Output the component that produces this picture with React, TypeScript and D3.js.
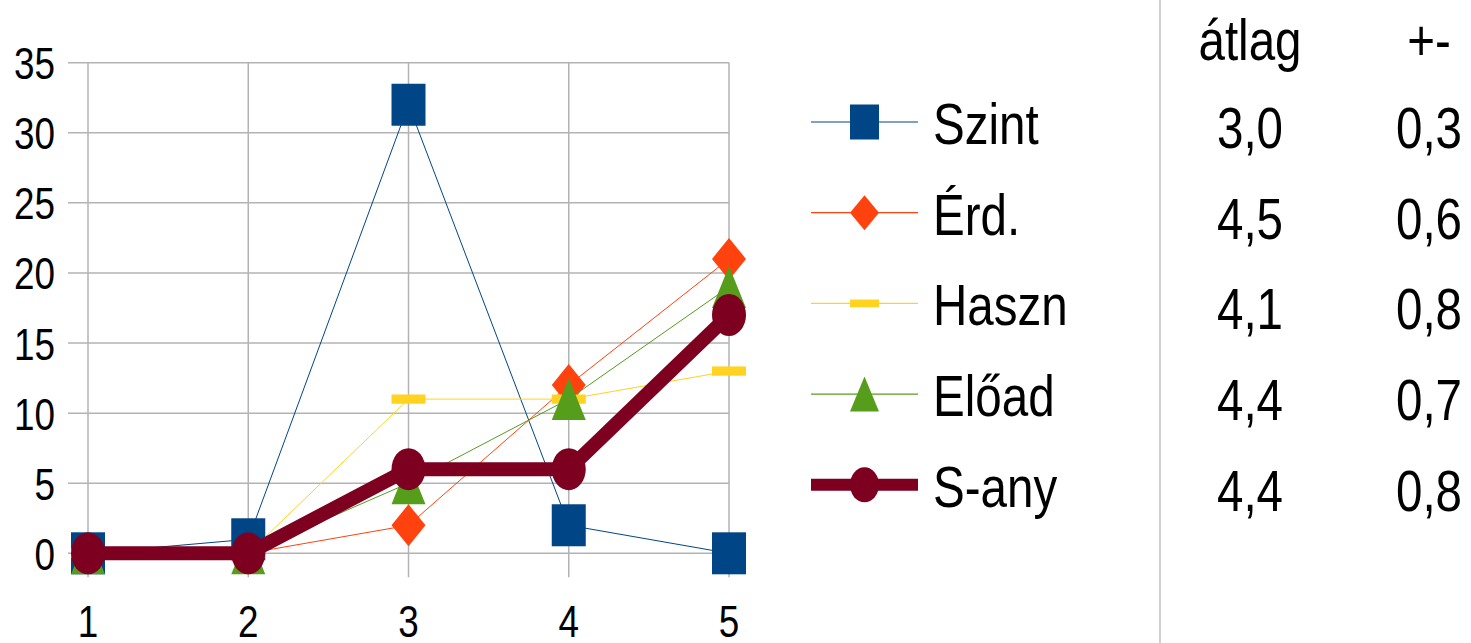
import React, { useEffect, useRef } from 'react';
import * as d3 from 'd3';

const categories = ['1', '2', '3', '4', '5'];
const seriesNames = ['Szint', 'Érd.', 'Haszn', 'Előad', 'S-any'];
const szint = [0, 1, 32, 2, 0];
const erd = [0, 0, 2, 12, 21];
const haszn = [0, 0, 11, 11, 13];
const eload = [0, 0, 5, 11, 19];
const sany = [0, 0, 6, 6, 17];
const yTicks = [0, 5, 10, 15, 20, 25, 30, 35];
const atlag = ['3,0', '4,5', '4,1', '4,4', '4,4'];
const pluszMinusz = ['0,3', '0,6', '0,8', '0,7', '0,8'];

const colors = ['#004586', '#ff420e', '#ffd320', '#579d1c', '#7e0021'];
const shapes = ['square', 'diamond', 'dash', 'triangle', 'circle'];
const widths = [1, 1, 1, 1, 14];
const FONT = "'Liberation Sans', Arial, sans-serif";
const NARROW = 0.82; // no narrow font installed, squeeze the regular one

// draws one marker centred at (cx, cy), w wide and h tall
function marker(g, shape, cx, cy, w, h, color) {
  if (shape === 'square') {
    g.append('rect').attr('x', cx - w / 2).attr('y', cy - h / 2).attr('width', w).attr('height', h).attr('fill', color);
  } else if (shape === 'circle') {
    g.append('ellipse').attr('cx', cx).attr('cy', cy).attr('rx', w / 2).attr('ry', h / 2).attr('fill', color);
  } else if (shape === 'diamond') {
    g.append('path')
      .attr('d', `M${cx},${cy - h / 2}L${cx + w / 2},${cy}L${cx},${cy + h / 2}L${cx - w / 2},${cy}Z`)
      .attr('fill', color);
  } else if (shape === 'triangle') {
    g.append('path')
      .attr('d', `M${cx},${cy - h / 2}L${cx + w / 2},${cy + h / 2}L${cx - w / 2},${cy + h / 2}Z`)
      .attr('fill', color);
  } else {
    g.append('rect').attr('x', cx - w / 2).attr('y', cy - h * 0.11).attr('width', w).attr('height', h * 0.22).attr('fill', color);
  }
}

const App = () => {
  const svgRef = useRef(null);

  useEffect(() => {
    const data = [szint, erd, haszn, eload, sany];
    const svg = d3.select(svgRef.current);
    svg.selectAll('*').remove();

    const x = d3.scalePoint().domain(categories).range([88, 729]);
    const y = d3.scaleLinear().domain([0, 35]).range([553.3, 62.7]);
    const grid = '#b3b3b3';
    const place = (px, py) => `translate(${px},${py}) scale(${NARROW},1)`;

    // horizontal grid + outward ticks
    svg.append('g').selectAll('line').data(yTicks).join('line')
      .attr('x1', 68).attr('x2', x('5'))
      .attr('y1', d => y(d)).attr('y2', d => y(d))
      .attr('stroke', grid).attr('stroke-width', 1.5);
    // vertical grid + outward ticks
    svg.append('g').selectAll('line').data(categories).join('line')
      .attr('x1', d => x(d)).attr('x2', d => x(d))
      .attr('y1', y(35)).attr('y2', y(0) + 24)
      .attr('stroke', grid).attr('stroke-width', 1.5);

    svg.append('g').selectAll('text').data(yTicks).join('text')
      .attr('transform', d => place(55, y(d) + 16.5))
      .attr('text-anchor', 'end')
      .style('font-family', FONT).style('font-size', '45px')
      .text(d => d);
    svg.append('g').selectAll('text').data(categories).join('text')
      .attr('transform', d => place(x(d), 637))
      .attr('text-anchor', 'middle')
      .style('font-family', FONT).style('font-size', '45px')
      .text(d => d);

    const line = d3.line().x((d, i) => x(categories[i])).y(d => y(d));

    data.forEach((vals, s) => {
      const g = svg.append('g');
      g.append('path').datum(vals)
        .attr('d', line)
        .attr('fill', 'none')
        .attr('stroke', colors[s])
        .attr('stroke-width', widths[s])
        .attr('stroke-linejoin', 'round');
      vals.forEach((v, i) => marker(g, shapes[s], x(categories[i]), y(v), 34, 42, colors[s]));
    });

    // legend
    const rowY = d3.scalePoint().domain(seriesNames).range([122, 484.8]);
    seriesNames.forEach((name, s) => {
      const g = svg.append('g');
      const cy = rowY(name);
      g.append('line').attr('x1', 811).attr('x2', 918).attr('y1', cy).attr('y2', cy)
        .attr('stroke', colors[s]).attr('stroke-width', s === 4 ? 12 : 1.2);
      marker(g, shapes[s], 864.5, cy, 29, 35, colors[s]);
      g.append('text').attr('transform', place(933, cy + 22))
        .style('font-family', FONT).style('font-size', '58px')
        .text(name);
    });

    // table
    svg.append('line').attr('x1', 1160).attr('x2', 1160).attr('y1', 0).attr('y2', 643)
      .attr('stroke', '#a0a0a0').attr('stroke-width', 1);
    const cols = [
      { head: 'átlag', vals: atlag, cx: 1250 },
      { head: '+-', vals: pluszMinusz, cx: 1429 },
    ];
    cols.forEach(c => {
      svg.append('text').attr('transform', place(c.cx, 60)).attr('text-anchor', 'middle')
        .style('font-family', FONT).style('font-size', '58px').text(c.head);
      c.vals.forEach((v, i) => {
        svg.append('text').attr('transform', place(c.cx, rowY(seriesNames[i]) + 26)).attr('text-anchor', 'middle')
          .style('font-family', FONT).style('font-size', '58px').text(v);
      });
    });
  }, []);

  return (
    <svg ref={svgRef} width={1471} height={643}
      style={{ position: 'absolute', left: 0, top: 0, background: '#fff' }} />
  );
};

export default App;
